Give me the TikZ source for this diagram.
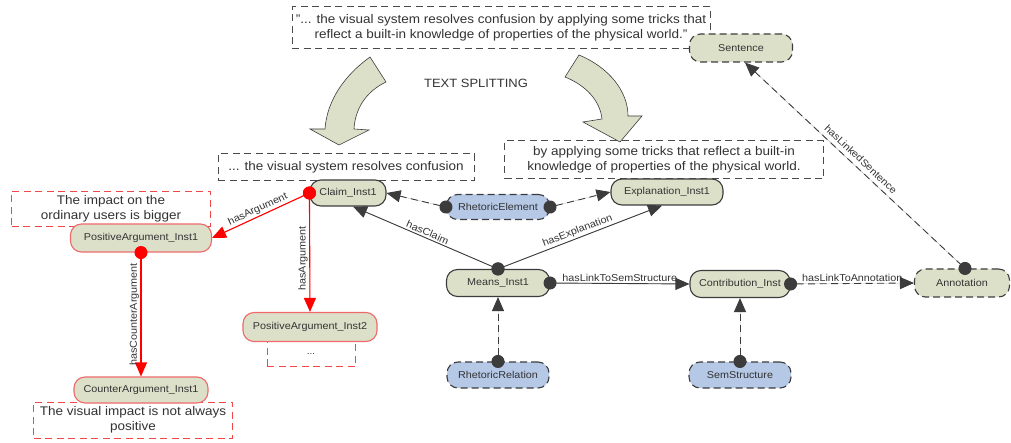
\documentclass[tikz,border=0pt]{standalone}
\usepackage{fontspec}
\setmainfont{Liberation Sans}[FakeStretch=1.08]
\usetikzlibrary{arrows.meta}

\definecolor{instfill}{HTML}{DDE0C9}
\definecolor{clsfill}{HTML}{B5C8E6}
\definecolor{nodeline}{HTML}{3C3C3C}
\definecolor{txt}{HTML}{333333}
\definecolor{argred}{HTML}{FF0000}
\definecolor{argline}{HTML}{EE6A6A}
\definecolor{notered}{HTML}{F04848}
\definecolor{notegray}{HTML}{4A4A4A}

\begin{document}
\begin{tikzpicture}[x=1pt, y=-1pt, text=txt,
  font=\fontsize{10}{12}\selectfont,
  inst/.style={draw=nodeline, line width=1.1pt, fill=instfill,
    rounded corners=11pt, minimum height=26pt, inner sep=0pt},
  instd/.style={inst, dash pattern=on 7pt off 4pt},
  cls/.style={instd, fill=clsfill},
  arg/.style={inst, draw=argline},
  note/.style={draw=notegray, line width=1pt, dash pattern=on 7pt off 4.5pt,
    align=center, inner sep=0pt, font=\fontsize{12.5}{15}\selectfont},
  rednote/.style={note, draw=notered},
  lbl/.style={font=\fontsize{10}{12}\selectfont, inner sep=1.5pt},
  link/.style={draw=nodeline, fill=nodeline, line width=0.9pt},
  dotlink/.style={link, {Circle[length=13pt]}-{Triangle[length=14pt,width=12pt]}, shorten <=-6.5pt},
  revdotlink/.style={link, {Triangle[length=14pt,width=12pt]}-{Circle[length=13pt]}, shorten >=-6.5pt},
  dashlink/.style={dash pattern=on 7pt off 4.5pt},
  arglink/.style={dotlink, draw=argred, fill=argred, line width=1.1pt},
  bigarrow/.style={fill=instfill, draw=nodeline, line width=0.6pt, line join=miter}
]
\useasboundingbox (0,0) rectangle (1011,443);
\fill[white] (0,0) rectangle (1011,443);

% quoted sentence and the two halves it is split into
\node[note, minimum width=418pt, minimum height=42pt] (quote) at (501,28)
  {"... the visual system resolves confusion by applying some tricks that\\reflect a built-in knowledge of properties of the physical world."};
\node[font=\fontsize{12}{14}\selectfont] (split) at (476,83) {TEXT SPLITTING};

\path[bigarrow] (370,57) .. controls (345,75) and (327,100) .. (325,129)
  -- (310,129) -- (339,145) -- (369,130) -- (354,129)
  .. controls (355,110) and (365,92) .. (386,82) -- cycle;
\path[bigarrow] (579,55) .. controls (610,68) and (628,92) .. (628,116)
  -- (642,116) -- (620,142) -- (583,122) -- (602,119)
  .. controls (600,100) and (585,85) .. (565,77) -- cycle;

\node[note, minimum width=256pt, minimum height=27pt] (claimtext) at (346,167.5)
  {... the visual system resolves confusion};
\node[note, minimum width=319pt, minimum height=38pt] (expltext) at (664,160)
  {by applying some tricks that reflect a built-in\\knowledge of properties of the physical world.};

% argument notes
\node[rednote, minimum width=199pt, minimum height=35pt] (pos1text) at (111,209)
  {The impact on the\\ordinary users is bigger};
\node[rednote, minimum width=88pt, minimum height=25pt, font=\fontsize{9}{11}\selectfont] (pos2text) at (311,354) {...};
\node[rednote, minimum width=199pt, minimum height=36pt] (countertext) at (133,420)
  {The visual impact is not always\\positive};

% instances and classes
\node[instd, minimum width=103pt, minimum height=28pt] (sent) at (741,48) {Sentence};
\node[inst, minimum width=76pt] (claim) at (348,193) {Claim\_Inst1};
\node[inst, minimum width=112pt] (expl) at (667,192) {Explanation\_Inst1};
\node[cls, minimum width=103pt, minimum height=25pt] (rhetel) at (498,207) {RhetoricElement};
\node[inst, minimum width=103pt, minimum height=27pt] (means) at (498,283) {Means\_Inst1};
\node[inst, minimum width=100pt, minimum height=27pt] (contrib) at (740,284) {Contribution\_Inst};
\node[instd, minimum width=95pt, minimum height=28pt] (annot) at (962,283) {Annotation};
\node[cls, minimum width=102pt] (rhetrel) at (498,375) {RhetoricRelation};
\node[cls, minimum width=102pt] (sem) at (740,375) {SemStructure};
\node[arg, minimum width=141pt, minimum height=28pt] (pos1) at (141,238) {PositiveArgument\_Inst1};
\node[arg, minimum width=134pt, minimum height=29pt] (pos2) at (310,327) {PositiveArgument\_Inst2};
\node[arg, minimum width=134pt] (counter) at (141,390) {CounterArgument\_Inst1};

% relations
\draw[dotlink, dashlink] (rhetel.west) -- (claim.east);
\draw[dotlink, dashlink] (rhetel.east) -- (expl.west);
\draw[dotlink] (means.north) -- node[lbl, midway, sloped, above] {hasClaim} ([xshift=5pt]claim.south);
\draw[dotlink] (means.north) -- node[lbl, midway, sloped, above] {hasExplanation} ([xshift=-5pt]expl.south);
\draw[dotlink] (means.east) -- node[lbl, midway, above] {hasLinkToSemStructure} (contrib.west);
\draw[dotlink, dashlink] (contrib.east) -- node[lbl, midway, above] {hasLinkToAnnotation} (annot.west);
\draw[revdotlink, dashlink] ([xshift=4pt]sent.south) -- node[lbl, midway, sloped, above=3pt] {hasLinkedSentence} ([xshift=3pt]annot.north);
\draw[dotlink, dashlink] (rhetrel.north) -- (means.south);
\draw[dotlink, dashlink] (sem.north) -- (contrib.south);

\draw[arglink] (claim.west) -- node[lbl, midway, sloped, above] {hasArgument} (pos1.east);
\draw[arglink] (claim.west) -- node[lbl, pos=0.55, rotate=90, anchor=south] {hasArgument} (pos2.north);
\draw[arglink] (pos1.south) -- node[lbl, midway, rotate=90, anchor=south] {hasCounterArgument} (counter.north);
\end{tikzpicture}
\end{document}
